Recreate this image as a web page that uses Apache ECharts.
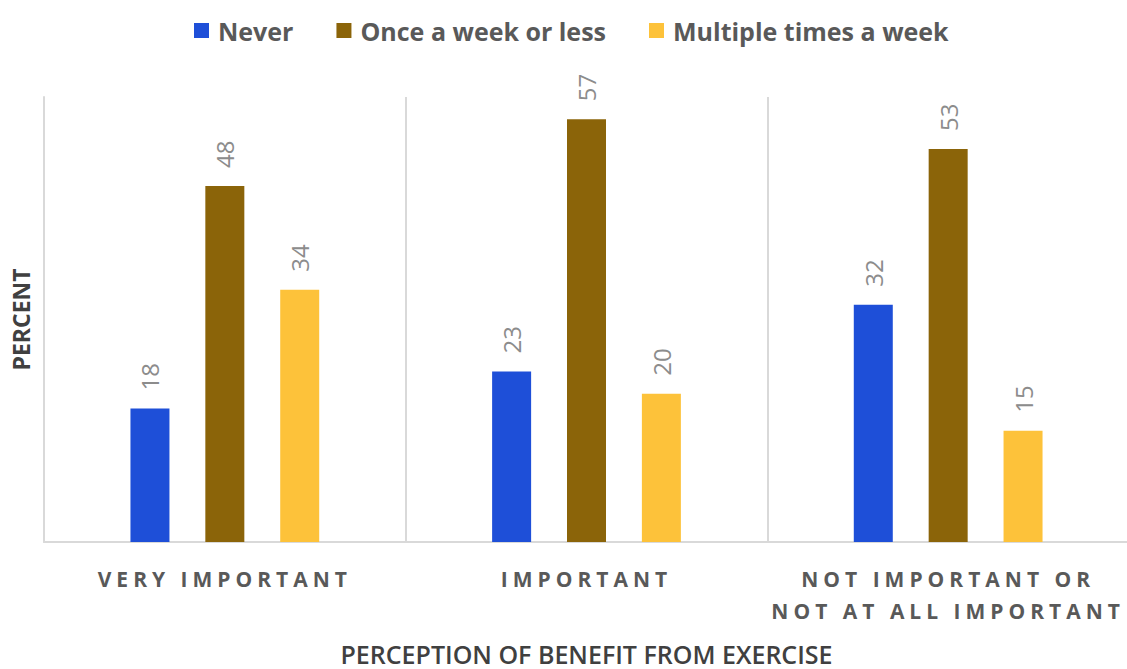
<!DOCTYPE html>
<html>
<head>
<meta charset="utf-8">
<script src="https://cdn.jsdelivr.net/npm/echarts@6/dist/echarts.min.js"></script>
<style>
  html, body { margin: 0; padding: 0; background: #ffffff; }
  #chart { width: 1127px; height: 669px; }
</style>
</head>
<body>
<div id="chart"></div>
<script>
// Perception of benefit from exercise vs. how often people exercise (percent)
const categories = ['VERY IMPORTANT', 'IMPORTANT', 'NOT IMPORTANT OR\nNOT AT ALL IMPORTANT'];
const seriesNames = ['Never', 'Once a week or less', 'Multiple times a week'];
const never = [18, 23, 32];
const onceWeekOrLess = [48, 57, 53];
const multipleTimesWeek = [34, 20, 15];
const yAxisTitle = 'PERCENT';
const xAxisTitle = 'PERCEPTION OF BENEFIT FROM EXERCISE';

const colors = ['#1E4FD8', '#8B6409', '#FDC23A'];
const gridLine = '#d9d9d9';
const font = '"Open Sans", "Liberation Sans", sans-serif';

const chart = echarts.init(document.getElementById('chart'), null, { renderer: 'svg' });

const valueLabel = {
  show: true,
  position: 'top',
  rotate: 90,
  align: 'left',
  verticalAlign: 'middle',
  distance: 18,
  color: '#8c8c8c',
  fontSize: 24,
  fontFamily: font
};

function makeSeries(name, values, color) {
  return {
    name: name,
    type: 'bar',
    data: values,
    barWidth: 39,
    barGap: '92%',
    itemStyle: { color: color },
    label: valueLabel
  };
}

chart.setOption({
  animation: false,
  legend: {
    top: 13,
    left: 189,
    icon: 'rect',
    itemWidth: 15,
    itemHeight: 15,
    itemGap: 43,
    textStyle: { fontSize: 25, fontWeight: 'bold', color: '#595959', fontFamily: font, padding: [0, 0, 0, 4] }
  },
  grid: { left: 44, right: -2, top: 97, bottom: 127, containLabel: false, outerBoundsMode: 'none' },
  xAxis: {
    type: 'category',
    data: categories,
    axisLine: { lineStyle: { color: gridLine, width: 2 } },
    axisTick: { show: false },
    splitLine: { show: true, lineStyle: { color: gridLine, width: 2 } },
    axisLabel: {
      margin: 21,
      interval: 0,
      color: '#595959',
      fontSize: 21,
      fontWeight: 'bold',
      fontFamily: font,
      lineHeight: 32
    },
    name: xAxisTitle,
    nameLocation: 'middle',
    nameGap: 99,
    nameTextStyle: { fontSize: 25, fontWeight: 600, color: '#404040', fontFamily: font }
  },
  yAxis: {
    type: 'value',
    min: 0,
    max: 60,
    axisLine: { show: true, lineStyle: { color: gridLine, width: 2 } },
    axisTick: { show: false },
    axisLabel: { show: false },
    splitLine: { show: false },
    name: yAxisTitle,
    nameLocation: 'middle',
    nameGap: 12,
    nameTextStyle: { fontSize: 23, fontWeight: 'bold', color: '#404040', fontFamily: font }
  },
  series: [
    makeSeries(seriesNames[0], never, colors[0]),
    makeSeries(seriesNames[1], onceWeekOrLess, colors[1]),
    makeSeries(seriesNames[2], multipleTimesWeek, colors[2])
  ]
});

// Spread out the letters of the category labels
const labelLines = [];
categories.forEach(function (c) { c.split('\n').forEach(function (l) { labelLines.push(l); }); });
document.querySelectorAll('#chart text').forEach(function (t) {
  if (labelLines.indexOf(t.textContent) >= 0) {
    t.setAttribute('letter-spacing', '5px');
  }
});
</script>
</body>
</html>
